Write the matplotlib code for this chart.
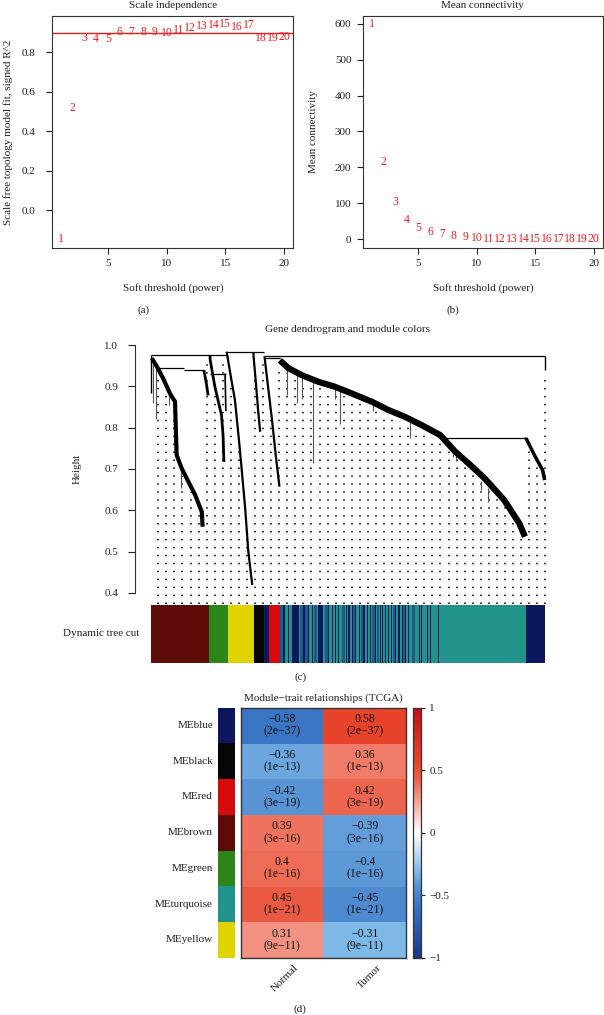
import numpy as np
import matplotlib.pyplot as plt
from matplotlib.colors import LinearSegmentedColormap

plt.rcParams['font.family'] = ['Liberation Serif', 'DejaVu Serif']
plt.rcParams['axes.unicode_minus'] = True

########### data

# (a) / (b) soft threshold scan
powers = list(range(1, 21))
sft_r2 = [-0.146, 0.516, 0.874, 0.865, 0.869, 0.901, 0.904, 0.902, 0.901, 0.896,
          0.912, 0.924, 0.932, 0.939, 0.942, 0.929, 0.936, 0.874, 0.874, 0.879]
mean_k = [598, 216, 103, 54.5, 31, 20, 14, 10, 6.5, 3.7,
          2.5, 1.8, 1.3, 1.0, 0.8, 0.6, 0.5, 0.4, 0.3, 0.25]
r2_cut = 0.9

# (c) gene dendrogram, x = leaf position (0..1), h = merge height
brown_x = [0.002, 0.015, 0.031, 0.048, 0.061, 0.065, 0.078, 0.095, 0.112, 0.129, 0.131]
brown_h = [0.968, 0.948, 0.919, 0.883, 0.863, 0.734, 0.701, 0.669, 0.637, 0.596, 0.560]
brown2_x = [0.135, 0.135, 0.140, 0.145]
brown2_h = [0.939, 0.935, 0.910, 0.878]
green_x = [0.150, 0.150, 0.162, 0.179, 0.183, 0.185]
green_h = [0.976, 0.965, 0.900, 0.830, 0.780, 0.717]
green2_x = [0.188, 0.190]
green2_h = [0.931, 0.840]
yellow_x = [0.192, 0.202, 0.213, 0.222, 0.230, 0.239, 0.247, 0.257]
yellow_h = [0.984, 0.927, 0.867, 0.782, 0.701, 0.605, 0.500, 0.419]
black_x = [0.260, 0.260, 0.267, 0.272, 0.277]
black_h = [0.982, 0.976, 0.900, 0.840, 0.790]
red_x = [0.288, 0.297, 0.307, 0.317, 0.326]
red_h = [0.973, 0.900, 0.820, 0.730, 0.657]
turq_x = [0.327, 0.349, 0.383, 0.425, 0.467, 0.509, 0.560, 0.602, 0.645,
          0.687, 0.734, 0.772, 0.810, 0.846, 0.896, 0.935, 0.949]
turq_h = [0.963, 0.944, 0.927, 0.911, 0.899, 0.883, 0.863, 0.843, 0.826,
          0.806, 0.782, 0.742, 0.710, 0.678, 0.625, 0.568, 0.536]
navy_x = [0.952, 0.952, 0.975, 0.994, 0.999]
navy_h = [0.776, 0.774, 0.730, 0.697, 0.673]
trunk_x = [0.0, 0.0]
trunk_h = [0.976, 0.885]
leaf_x = [1.0, 1.0]
leaf_h = [0.973, 0.940]

# merges: height, from, to
merge_h = [0.976, 0.982, 0.973, 0.944, 0.939, 0.931, 0.969, 0.776]
merge_x0 = [0.000, 0.192, 0.288, 0.020, 0.084, 0.150, 0.288, 0.748]
merge_x1 = [0.192, 0.288, 1.000, 0.084, 0.135, 0.190, 0.327, 0.952]

# single hanging leaves
hair_x = [0.006, 0.012, 0.045, 0.075, 0.344, 0.370, 0.382, 0.412, 0.467, 0.480,
          0.564, 0.657, 0.766, 0.773, 0.837, 0.856]
hair_top = [0.955, 0.945, 0.89, 0.70, 0.945, 0.93, 0.927, 0.915, 0.899, 0.895,
            0.86, 0.82, 0.745, 0.74, 0.67, 0.655]
hair_bot = [0.860, 0.820, 0.855, 0.655, 0.880, 0.86, 0.870, 0.714, 0.870, 0.810,
            0.84, 0.775, 0.730, 0.72, 0.649, 0.620]

# dynamic tree cut colours
module_edges = [0.0, 0.147, 0.195, 0.261, 0.287, 0.299, 0.327, 0.952, 1.0]
module_names = ['brown', 'green', 'yellow', 'black', 'blue', 'red', 'turquoise', 'blue']
blue_stripe_x = [0.336, 0.347, 0.359, 0.387, 0.399, 0.408, 0.423, 0.450, 0.459, 0.467,
                 0.475, 0.494, 0.501, 0.509, 0.518, 0.528, 0.539, 0.548, 0.556, 0.569,
                 0.581, 0.587, 0.594, 0.602, 0.609, 0.619, 0.628, 0.636, 0.645, 0.653,
                 0.679, 0.685, 0.700, 0.708, 0.729]
blue_stripe_w = [0.003, 0.003, 0.017, 0.003, 0.003, 0.003, 0.014, 0.003, 0.003, 0.003,
                 0.003, 0.003, 0.0035, 0.003, 0.003, 0.003, 0.003, 0.003, 0.003, 0.003,
                 0.003, 0.003, 0.003, 0.003, 0.003, 0.003, 0.003, 0.003, 0.003, 0.003,
                 0.0025, 0.0025, 0.004, 0.0025, 0.0015]
steel_stripe_x = [0.327, 0.368, 0.378, 0.391, 0.414, 0.442, 0.485, 0.513, 0.533,
                  0.561, 0.574, 0.614, 0.640, 0.662]
steel_stripe_w = [0.0076, 0.005, 0.0076, 0.0076, 0.0076, 0.0076, 0.0076, 0.005, 0.005,
                  0.0076, 0.005, 0.005, 0.005, 0.0076]

# (d) module-trait relationships
me_names = ['MEblue', 'MEblack', 'MEred', 'MEbrown', 'MEgreen', 'MEturquoise', 'MEyellow']
me_modules = ['blue', 'black', 'red', 'brown', 'green', 'turquoise', 'yellow']
traits = ['Normal', 'Tumor']
cor_normal = [-0.58, -0.36, -0.42, 0.39, 0.4, 0.45, 0.31]
cor_tumor = [0.58, 0.36, 0.42, -0.39, -0.4, -0.45, -0.31]
p_normal = ['2e-37', '1e-13', '3e-19', '3e-16', '1e-16', '1e-21', '9e-11']
p_tumor = ['2e-37', '1e-13', '3e-19', '3e-16', '1e-16', '1e-21', '9e-11']

########### style

wgcna_col = {'blue': '#0d175e', 'black': '#060606', 'red': '#d60a0a', 'brown': '#5e0a08',
             'green': '#2c8617', 'turquoise': '#21938a', 'yellow': '#e0d400'}
steel = '#1d5a87'
red_txt = '#ee1c1c'
ink = '#222222'

cm_pos = [-1, -0.58, -0.45, -0.31, -0.15, 0, 0.15, 0.31, 0.45, 0.58, 1]
cm_col = ['#16368a', '#3a76c4', '#4f8bd0', '#7db8e7', '#c3ddf2', '#ffffff',
          '#f9cbbf', '#f29181', '#eb5a42', '#e8432b', '#c5101a']
bwr = LinearSegmentedColormap.from_list('bwr_wgcna', [((p + 1) / 2, c) for p, c in zip(cm_pos, cm_col)])

W, H = 604, 1015
fig = plt.figure(figsize=(W / 100, H / 100), dpi=100)


def box(l, t, r, b):
    return [l / W, 1 - b / H, (r - l) / W, (b - t) / H]


def ftext(x, y, s, **kw):
    kw.setdefault('ha', 'center')
    kw.setdefault('va', 'center')
    kw.setdefault('fontsize', 8)
    kw.setdefault('color', ink)
    fig.text(x / W, 1 - y / H, s, **kw)


def r_axes(ax, ypad):
    for s in ax.spines.values():
        s.set_linewidth(0.8)
        s.set_color('#333333')
    ax.tick_params(direction='out', length=4.5, width=0.8, labelsize=8, colors=ink)
    ax.tick_params(axis='x', pad=3.5)
    ax.tick_params(axis='y', pad=ypad)
    ax.set_xlim(0.24, 20.76)
    ax.set_xticks([5, 10, 15, 20])


########### (a) scale independence
ax = fig.add_axes(box(52, 15.7, 293, 248))
for p, v in zip(powers, sft_r2):
    ax.text(p, v, str(p), color=red_txt, ha='center', va='center', fontsize=8.5)
ax.axhline(r2_cut, color=red_txt, lw=1)
ax.set_ylim(-0.19, 0.985)
ax.set_yticks([0.0, 0.2, 0.4, 0.6, 0.8])
ax.set_yticklabels(['0.0', '0.2', '0.4', '0.6', '0.8'])
r_axes(ax, 7.5)
ftext(173, 5, 'Scale independence')
ftext(173, 288, 'Soft threshold (power)')
ftext(8, 132, 'Scale free topology model fit, signed R^2', rotation=90)
ftext(144, 310, '(a)')

########### (b) mean connectivity
ax = fig.add_axes(box(362.7, 15.6, 602.5, 248))
for p, v in zip(powers, mean_k):
    ax.text(p, v, str(p), color=red_txt, ha='center', va='center', fontsize=8.5)
ax.set_ylim(-23.7, 622)
ax.set_yticks(range(0, 601, 100))
r_axes(ax, 3.6)
ftext(482, 5, 'Mean connectivity')
ftext(483, 288, 'Soft threshold (power)')
ftext(313, 132, 'Mean connectivity', rotation=90)
ftext(453, 310, '(b)')

########### (c) dendrogram + module colours
ax = fig.add_axes(box(135, 343, 551, 605))
ax.set_xlim(-0.0406, 1.0152)
ax.set_ylim(0.3705, 1.005)

branches = [(brown_x, brown_h, 3.0), (brown2_x, brown2_h, 2.0), (green_x, green_h, 2.0),
            (green2_x, green2_h, 1.2), (yellow_x, yellow_h, 1.6), (black_x, black_h, 1.6),
            (red_x, red_h, 1.6), (turq_x, turq_h, 4.5), (navy_x, navy_h, 2.5),
            (trunk_x, trunk_h, 1.0), (leaf_x, leaf_h, 1.0)]

# leaf columns (dotted) hanging under the tree
col_x = np.arange(0.0185, 1.001, 0.02046)
col_top = []
for cx in col_x:
    hs = [np.interp(cx, bx, bh) for bx, bh, _ in branches if min(bx) - 0.012 <= cx <= max(bx) + 0.012]
    col_top.append(max(hs) - 0.015 if hs else 0.92)
ax.vlines(col_x, 0.372, col_top, colors='black', lw=1.1, linestyles=(0, (1, 4.2)))

ax.vlines(hair_x, hair_bot, hair_top, colors='#555555', lw=0.8)
ax.hlines(merge_h, merge_x0, merge_x1, colors='black', lw=0.9)
for bx, bh, lw in branches:
    ax.plot(bx, bh, color='black', lw=lw, solid_capstyle='butt')

for s in ['top', 'right', 'bottom']:
    ax.spines[s].set_visible(False)
ax.spines['left'].set_bounds(0.4, 1.0)
ax.spines['left'].set_linewidth(0.8)
ax.spines['left'].set_color('#333333')
ax.set_xticks([])
ax.set_yticks([0.4, 0.5, 0.6, 0.7, 0.8, 0.9, 1.0])
ax.tick_params(axis='y', direction='out', length=5, width=0.8, pad=7, labelsize=8, colors=ink)
ax.patch.set_alpha(0)

cb = fig.add_axes(box(151, 605, 545, 663))
for x0, x1, m in zip(module_edges[:-1], module_edges[1:], module_names):
    cb.bar(x0, 1, width=x1 - x0, align='edge', color=wgcna_col[m], lw=0)
cb.bar(steel_stripe_x, 1, width=steel_stripe_w, align='edge', color=steel, lw=0)
cb.bar(blue_stripe_x, 1, width=blue_stripe_w, align='edge', color=wgcna_col['blue'], lw=0)
cb.set_xlim(0, 1)
cb.set_ylim(0, 1)
cb.axis('off')

ftext(348, 329, 'Gene dendrogram and module colors')
ftext(77, 469, 'Height', rotation=90)
ftext(139.5, 634, 'Dynamic tree cut', ha='right')
ftext(301, 677, '(c)')

########### (d) module-trait heatmap
ax = fig.add_axes(box(241, 707.7, 406, 957.7))
vals = np.column_stack([cor_normal, cor_tumor])
ax.imshow(vals, cmap=bwr, vmin=-1, vmax=1, aspect='auto', interpolation='nearest')
pv = np.column_stack([p_normal, p_tumor])
for i in range(len(me_names)):
    for j in range(len(traits)):
        lab = f'{vals[i, j]:g}\n({pv[i, j]})'.replace('-', '\u2212')
        ax.text(j, i, lab, ha='center', va='center', fontsize=8.5, color='#111111', linespacing=1.05)
ax.set_xticks([])
ax.set_yticks([])
for s in ax.spines.values():
    s.set_linewidth(1.0)
    s.set_color('#333333')

sb = fig.add_axes(box(218, 707.7, 234.7, 957.7))
for i, m in enumerate(me_modules):
    sb.bar(0, 1, bottom=len(me_modules) - 1 - i, width=1, align='edge', color=wgcna_col[m], lw=0)
sb.set_xlim(0, 1)
sb.set_ylim(0, len(me_modules))
sb.axis('off')

row_h = 250 / len(me_names)
for i, name in enumerate(me_names):
    ftext(213, 707.7 + row_h * (i + 0.5), name, ha='right')

for j, t in enumerate(traits):
    cx = 241 + 82.5 * (j + 0.5)
    fig.text((cx + 12) / W, 1 - 963 / H, t, rotation=45, ha='right', va='top',
             rotation_mode='anchor', fontsize=8, color=ink)

cax = fig.add_axes(box(413, 707.7, 421, 957.7))
grad = np.linspace(1, -1, 256).reshape(-1, 1)
cax.imshow(grad, cmap=bwr, vmin=-1, vmax=1, aspect='auto', extent=(0, 1, -1, 1))
cax.set_xticks([])
cax.yaxis.tick_right()
cax.set_yticks([1, 0.5, 0, -0.5, -1])
cax.set_yticklabels(['1', '0.5', '0', '\u22120.5', '\u22121'])
cax.tick_params(axis='y', length=3, width=0.8, pad=3, labelsize=8, colors=ink)
for s in cax.spines.values():
    s.set_linewidth(0.9)
    s.set_color('#333333')

ftext(323.5, 697.7, 'Module\u2212trait relationships (TCGA)')
ftext(300, 1009, '(d)')

fig.savefig('out.png', dpi=100)
